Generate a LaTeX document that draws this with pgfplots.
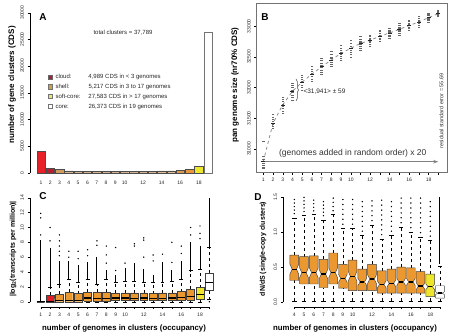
\documentclass[border=0pt]{standalone}
\usepackage{fontspec}
\setmainfont{Liberation Sans}
\usepackage{pgfplots}
\pgfplotsset{compat=1.18}
\usetikzlibrary{decorations.pathreplacing,arrows.meta}

\definecolor{redA}{RGB}{232,32,40}
\definecolor{darkredA}{RGB}{180,32,45}
\definecolor{tanA}{RGB}{208,155,95}
\definecolor{brownA}{RGB}{190,140,90}
\definecolor{lorangeA}{RGB}{218,155,80}
\definecolor{orangeA}{RGB}{232,150,55}
\definecolor{yellowA}{RGB}{238,230,45}
\definecolor{orangeC}{RGB}{236,152,48}
\definecolor{redC}{RGB}{226,30,36}
\definecolor{legred}{RGB}{165,35,55}
\definecolor{legtan}{RGB}{200,160,80}
\definecolor{legyel}{RGB}{230,230,120}

\pgfplotsset{rstyle/.style={scale only axis, axis lines*=left, axis line style={draw=none},
  tick align=outside, major tick length=2.5pt, tick style={black, line width=0.35pt},
  ticklabel style={font=\fontsize{5}{6}\selectfont, text=black!85},
  /pgf/number format/assume math mode=true, /pgf/number format/1000 sep={},
  scaled ticks=false, clip=false,
  yticklabel style={rotate=90, anchor=south}}}

\newcommand\sq[2]{{\setlength\fboxsep{0pt}\setlength\fboxrule{0.6pt}\fcolorbox{#2}{#1}{\rule{0pt}{3.6pt}\rule{3.6pt}{0pt}}}}

% #1 x, #2 lower whisker, #3 q1, #4 median, #5 q3, #6 upper whisker, #7 notch, #8 fill, #9 draw
\newcommand\rbox[9]{%
  \pgfmathsetmacro\xl{#1-\bw}%
  \pgfmathsetmacro\xr{#1+\bw}%
  \pgfmathsetmacro\xnl{#1-\bw*\nf}%
  \pgfmathsetmacro\xnr{#1+\bw*\nf}%
  \pgfmathsetmacro\cl{#1-\bw*0.5}%
  \pgfmathsetmacro\cr{#1+\bw*0.5}%
  \pgfmathsetmacro\nlo{#4-#7}%
  \pgfmathsetmacro\nhi{#4+#7}%
  \edef\tmp{%
    \noexpand\addplot[black, dashed, line width=0.35pt, forget plot] coordinates {(#1,#5) (#1,#6)};
    \noexpand\addplot[black, dashed, line width=0.35pt, forget plot] coordinates {(#1,#2) (#1,#3)};
    \noexpand\addplot[black, line width=0.35pt, forget plot] coordinates {(\cl,#6) (\cr,#6)};
    \noexpand\addplot[black, line width=0.35pt, forget plot] coordinates {(\cl,#2) (\cr,#2)};
    \noexpand\addplot[draw=#9, fill=#8, line width=0.45pt, forget plot] coordinates {(\xl,#3) (\xl,\nlo) (\xnl,#4) (\xl,\nhi) (\xl,#5) (\xr,#5) (\xr,\nhi) (\xnr,#4) (\xr,\nlo) (\xr,#3) (\xl,#3)};
    \noexpand\addplot[black, line width=1.3pt, forget plot] coordinates {(\xnl,#4) (\xnr,#4)};
  }\tmp}

\begin{document}
\begin{tikzpicture}
\useasboundingbox (0,0) rectangle (450pt,335pt);

%================ A =================
\begin{axis}[rstyle, at={(30pt,162.3pt)}, anchor=south west, width=185.5pt, height=160pt,
  xmin=-0.185, xmax=19.8, ymin=0, ymax=30000,
  ytick={0,5000,10000,15000,20000,25000,30000},
  xtick={1,2,3,4,5,6,7,8,9,10,12,14,16,18}, xtick style={draw=none},
  xticklabel style={yshift=-2pt}]
\draw[line width=0.35pt] (axis cs:-0.185,0) -- (axis cs:-0.185,30000);
\pgfplotsset{every axis plot/.append style={ybar, bar width=8.4pt, bar shift=0pt, draw=black!70, line width=0.35pt}}
\addplot[fill=redA] coordinates {(1,4100)};
\addplot[fill=darkredA] coordinates {(2,889)};
\addplot[fill=tanA] coordinates {(3,600)};
\addplot[fill=brownA] coordinates {(4,330) (5,290) (6,270) (7,260) (8,250) (9,250) (10,250) (11,250) (12,260) (13,270)};
\addplot[fill=tanA] coordinates {(14,330) (15,350)};
\addplot[fill=lorangeA] coordinates {(16,520)};
\addplot[fill=orangeA] coordinates {(17,740)};
\addplot[fill=yellowA] coordinates {(18,1210)};
\addplot[fill=white, draw=black!55] coordinates {(19,26373)};
\end{axis}
\node[font=\bfseries\fontsize{10}{12}\selectfont] at (43pt,318pt) {A};
\node[font=\fontsize{6}{7}\selectfont, text=black!85] at (123pt,302pt) {total clusters = 37,789};
\node[anchor=north west, inner sep=0pt, font=\fontsize{6}{9.7}\selectfont, text=black!85] at (48pt,263pt)
 {\begin{tabular}{@{}c@{\hspace{2.5pt}}p{33pt}@{}l@{}}
  \sq{legred}{black!60} & cloud: & 4,989 CDS in < 3 genomes\\
  \sq{legtan}{black!55} & shell: & 5,217 CDS in 3 to 17 genomes\\
  \sq{legyel}{black!55} & soft-core: & 27,583 CDS in > 17 genomes\\
  \sq{white}{black!55} & core: & 26,373 CDS in 19 genomes
 \end{tabular}};
\node[rotate=90, font=\bfseries\fontsize{8}{9}\selectfont] at (12pt,250pt) {number of gene clusters (CDS)};

%================ B =================
\begin{axis}[scale only axis, at={(256.7pt,162.7pt)}, anchor=south west, width=190.3pt, height=169pt,
  xmin=0.32, xmax=19.9, ymin=30621, ymax=33373, axis line style={draw=black!55, line width=0.5pt},
  xtick pos=bottom, ytick pos=left, tick align=outside, major tick length=2.5pt,
  tick style={black, line width=0.35pt},
  ticklabel style={font=\fontsize{5}{6}\selectfont, text=black!85},
  /pgf/number format/assume math mode=true, /pgf/number format/1000 sep={}, scaled ticks=false,
  yticklabel style={rotate=90, anchor=south},
  xtick={1,2,3,4,5,6,7,8,9,10,11,12,13,14,15,16,17,18,19},
  xticklabels={1,2,3,4,5,6,7,8,9,10,,12,,14,,16,,18,},
  ytick={31000,31500,32000,32500,33000}, clip=false]
\addplot[only marks, mark=-, mark size=1.2pt, black!60, mark options={line width=0.6pt}] table {
x y
1 30680
1 30710
1 30740
1 30770
1 30800
1 30840
1 30880
1 31120
2 31340
2 31370
2 31400
2 31420
2 31450
2 31480
2 31520
2 31560
3 31580
3 31620
3 31660
3 31700
3 31730
3 31770
3 31810
3 31850
4 31800
4 31840
4 31880
4 31920
4 31960
4 32000
4 32040
4 32070
5 31960
5 32000
5 32040
5 32080
5 32110
5 32140
5 32170
5 32205
6 32100
6 32140
6 32180
6 32210
6 32240
6 32270
6 32300
6 32340
7 32210
7 32250
7 32290
7 32330
7 32360
7 32400
7 32440
7 32475
8 32340
8 32380
8 32410
8 32440
8 32470
8 32500
8 32540
8 32585
9 32450
9 32480
9 32510
9 32540
9 32570
9 32600
9 32640
9 32690
10 32500
10 32540
10 32580
10 32610
10 32640
10 32680
10 32720
10 32775
11 32610
11 32640
11 32670
11 32700
11 32730
11 32760
11 32790
11 32830
12 32670
12 32700
12 32730
12 32760
12 32780
12 32800
12 32830
12 32860
13 32750
13 32780
13 32800
13 32830
13 32850
13 32880
13 32910
13 32940
14 32800
14 32830
14 32850
14 32880
14 32900
14 32920
14 32940
14 32965
15 32860
15 32890
15 32910
15 32940
15 32960
15 32990
15 33020
15 33045
16 32940
16 32960
16 32990
16 33010
16 33030
16 33050
16 33075
16 33100
17 32990
17 33020
17 33040
17 33060
17 33080
17 33100
17 33130
17 33155
18 33070
18 33090
18 33110
18 33130
18 33150
18 33170
18 33190
18 33210
19 33155
19 33170
19 33185
19 33200
19 33215
19 33230
19 33245
19 33260
};
\addplot[dashed, black!45, line width=0.8pt] coordinates {(1,30800) (2,31420) (3,31720) (4,31941) (5,32090) (6,32220) (7,32340) (8,32450) (9,32560) (10,32640) (11,32720) (12,32770) (13,32840) (14,32890) (15,32950) (16,33010) (17,33070) (18,33140) (19,33205)};
\addplot[only marks, mark=-, mark size=2pt, black!85, mark options={line width=0.6pt}] coordinates {(1,30800) (2,31420) (3,31720) (4,31941) (5,32090) (6,32220) (7,32340) (8,32450) (9,32560) (10,32640) (11,32720) (12,32770) (13,32840) (14,32890) (15,32950) (16,33010) (17,33070) (18,33140) (19,33205)};
\draw[-{Stealth[length=5pt,width=3.5pt]}, black!50, line width=1.1pt] (axis cs:1,30794) -- (axis cs:19,30794);
\node[font=\fontsize{8.5}{10}\selectfont, text=black!80] at (axis cs:10.2,30935) {(genomes added in random order) x 20};
\end{axis}
\node[font=\bfseries\fontsize{10}{12}\selectfont] at (265pt,318pt) {B};
\draw[decorate, decoration={brace, amplitude=2.5pt}, black!70, line width=0.5pt] (296pt,256pt) -- (296pt,234pt);
\node[anchor=west, font=\fontsize{6.5}{8}\selectfont, text=black!85] at (300pt,243pt) {<31,941> ± 59};
\node[rotate=90, font=\fontsize{5.5}{6}\selectfont, text=black!80] at (441.5pt,224pt) {residual standard error = 55.69};
\node[rotate=90, font=\bfseries\fontsize{8}{9}\selectfont] at (235pt,250pt) {pan genome size (nr70\% CDS)};

%================ C =================
\def\bw{0.42}\def\nf{1}
\begin{axis}[rstyle, at={(30pt,28.3pt)}, anchor=south west, width=185pt, height=108.9pt,
  xmin=-0.14, xmax=19.6, ymin=-0.67, ymax=14,
  ytick={0,2,4,6,8,10,12,14},
  xtick={1,2,3,4,5,6,7,8,9,10,11,12,13,14,15,16,17,18,19},
  xticklabels={1,2,3,4,5,6,7,8,9,10,,12,,14,,16,,18,}]
\draw[line width=0.35pt] (axis cs:-0.14,0) -- (axis cs:-0.14,14);
\draw[line width=0.35pt] (axis cs:1,-0.67) -- (axis cs:19,-0.67);
% dense outlier columns
\addplot[black, line width=1pt] coordinates {(1,0) (1,8.3)};
\addplot[black, line width=1pt] coordinates {(2,2.0) (2,7.3)};
\addplot[black, line width=1pt] coordinates {(3,2.4) (3,5.5)};
\addplot[black, line width=1pt] coordinates {(4,3.0) (4,5.5)};
\addplot[black, line width=1pt] coordinates {(5,2.6) (5,5.0)};
\addplot[black, line width=1pt] coordinates {(6,3.0) (6,5.3)};
\addplot[black, line width=1pt] coordinates {(7,2.4) (7,6.0)};
\addplot[black, line width=1pt] coordinates {(8,3.0) (8,4.3)};
\addplot[black, line width=1pt] coordinates {(9,2.7) (9,3.6)};
\addplot[black, line width=1pt] coordinates {(10,2.8) (10,4.5)};
\addplot[black, line width=1pt] coordinates {(11,2.8) (11,5.2)};
\addplot[black, line width=1pt] coordinates {(12,2.6) (12,4.4)};
\addplot[black, line width=1pt] coordinates {(13,2.6) (13,3.6)};
\addplot[black, line width=1pt] coordinates {(14,2.6) (14,5.3)};
\addplot[black, line width=1pt] coordinates {(15,2.8) (15,4.3)};
\addplot[black, line width=1pt] coordinates {(16,3.0) (16,5.5)};
\addplot[black, line width=1pt] coordinates {(17,4.2) (17,8.0)};
\addplot[black, line width=1pt] coordinates {(18,4.4) (18,7.5)};
\addplot[black, line width=1pt] coordinates {(19,7.3) (19,14)};
% sparse outliers
\addplot[only marks, mark=*, mark size=0.45pt, black] coordinates {
(1,9.0) (1,11.3) (1,11.9) (2,8.2) (2,10.0)
(3,6.2) (3,6.8) (3,7.5) (3,8.2) (3,9.0)
(4,6.0) (4,6.8) (5,5.8) (5,6.8) (6,6.2) (6,7.0)
(7,7.6) (7,8.2) (8,5.2) (8,6.3) (8,7.5) (9,4.2) (9,7.3)
(10,5.2) (11,7.5) (11,7.8) (12,6.0) (12,8.3) (12,8.6)
(13,5.5) (13,6.3) (14,6.4) (15,5.3) (15,8.0) (16,6.5) (16,7.5)
(17,9.0) (17,10.0) (18,8.5) (18,9.2) (18,10.2) (19,0)};
\rbox{1}{0}{0}{0}{0}{0}{0}{redC}{black!75}
\rbox{2}{0}{0}{0.05}{0.85}{2.0}{0}{redC}{black!75}
\rbox{3}{0}{0}{0.15}{1.0}{2.4}{0}{orangeC}{black!75}
\rbox{4}{0}{0}{0.2}{1.25}{3.0}{0}{orangeC}{black!75}
\rbox{5}{0}{0}{0.15}{1.1}{2.6}{0}{orangeC}{black!75}
\rbox{6}{0}{0.05}{0.5}{1.3}{3.0}{0}{orangeC}{black!75}
\rbox{7}{0}{0.1}{0.45}{1.25}{2.4}{0}{orangeC}{black!75}
\rbox{8}{0}{0.1}{0.45}{1.3}{3.0}{0}{orangeC}{black!75}
\rbox{9}{0}{0.15}{0.5}{1.15}{2.7}{0}{orangeC}{black!75}
\rbox{10}{0}{0.15}{0.5}{1.2}{2.8}{0}{orangeC}{black!75}
\rbox{11}{0}{0.15}{0.45}{1.2}{2.8}{0}{orangeC}{black!75}
\rbox{12}{0}{0.15}{0.5}{1.2}{2.6}{0}{orangeC}{black!75}
\rbox{13}{0}{0.15}{0.45}{1.1}{2.6}{0}{orangeC}{black!75}
\rbox{14}{0}{0.15}{0.45}{1.2}{2.6}{0}{orangeC}{black!75}
\rbox{15}{0}{0.15}{0.5}{1.2}{2.8}{0}{orangeC}{black!75}
\rbox{16}{0}{0.2}{0.6}{1.35}{3.0}{0}{orangeC}{black!75}
\rbox{17}{0}{0.2}{0.7}{1.7}{4.2}{0}{orangeC}{black!75}
\rbox{18}{0}{0.3}{1.0}{1.9}{4.4}{0}{yellowA}{black!75}
\rbox{19}{0.3}{1.6}{2.6}{3.9}{7.3}{0}{white}{black!75}
\end{axis}
\node[font=\bfseries\fontsize{10}{12}\selectfont] at (43pt,139pt) {C};
\node[rotate=90, font=\bfseries\fontsize{7}{8}\selectfont] at (13pt,86pt) {|log\textsubscript{2}(transcripts per million)|};
\node[font=\bfseries\fontsize{7.8}{9}\selectfont] at (124pt,7pt) {number of genomes in clusters (occupancy)};

%================ D =================
\def\bw{0.45}\def\nf{0.5}
\begin{axis}[rstyle, at={(283.3pt,28.3pt)}, anchor=south west, width=161.55pt, height=110pt,
  xmin=2.866, xmax=19.5, ymin=-0.0625, ymax=1.5,
  ytick={0,0.5,1,1.5}, yticklabels={0.0,0.5,1.0,1.5},
  xtick={4,5,6,7,8,9,10,11,12,13,14,15,16,17,18,19},
  xticklabels={4,5,6,7,8,9,10,,12,,14,,16,,18,}]
\draw[line width=0.35pt] (axis cs:2.866,0) -- (axis cs:2.866,1.5);
\draw[line width=0.35pt] (axis cs:4,-0.0625) -- (axis cs:19,-0.0625);
\addplot[black, line width=1pt] coordinates {(19,0.55) (19,1.5)};
\addplot[only marks, mark=*, mark size=0.45pt, black] coordinates {
(4,1.26) (4,1.31) (4,1.36) (4,1.41) (4,1.46)
(5,1.29) (5,1.34) (5,1.39) (5,1.44) (5,1.49)
(6,1.30) (6,1.35) (6,1.40) (6,1.45)
(7,1.23) (7,1.28) (7,1.33) (7,1.38) (7,1.43)
(8,1.30) (8,1.36) (8,1.42) (8,1.48)
(9,1.11) (9,1.18) (9,1.25) (9,1.32) (9,1.39) (9,1.46)
(10,1.11) (10,1.18) (10,1.25) (10,1.32) (10,1.39) (10,1.46)
(11,1.01) (11,1.08) (11,1.15) (11,1.22) (11,1.29) (11,1.36) (11,1.43)
(12,1.16) (12,1.23) (12,1.30) (12,1.37) (12,1.44)
(13,0.96) (13,1.03) (13,1.10) (13,1.17) (13,1.24) (13,1.31) (13,1.38) (13,1.45)
(14,1.01) (14,1.08) (14,1.15) (14,1.22) (14,1.29) (14,1.36) (14,1.43)
(15,1.13) (15,1.20) (15,1.27) (15,1.34) (15,1.41) (15,1.48)
(16,1.06) (16,1.13) (16,1.20) (16,1.27) (16,1.34) (16,1.41) (16,1.48)
(17,0.99) (17,1.06) (17,1.13) (17,1.20) (17,1.27) (17,1.34) (17,1.41) (17,1.48)
(18,0.94) (18,1.01) (18,1.08) (18,1.15) (18,1.22) (18,1.29) (18,1.36) (18,1.43)};
\rbox{4}{0.02}{0.31}{0.47}{0.67}{1.20}{0.07}{orangeC}{black!75}
\rbox{5}{0.02}{0.26}{0.42}{0.65}{1.24}{0.07}{orangeC}{black!75}
\rbox{6}{0.02}{0.26}{0.42}{0.66}{1.25}{0.07}{orangeC}{black!75}
\rbox{7}{0.02}{0.21}{0.40}{0.61}{1.17}{0.07}{orangeC}{black!75}
\rbox{8}{0.02}{0.26}{0.42}{0.70}{1.25}{0.07}{orangeC}{black!75}
\rbox{9}{0.02}{0.20}{0.34}{0.54}{1.05}{0.06}{orangeC}{black!75}
\rbox{10}{0.02}{0.165}{0.37}{0.60}{1.05}{0.07}{orangeC}{black!75}
\rbox{11}{0.02}{0.165}{0.29}{0.47}{0.95}{0.05}{orangeC}{black!75}
\rbox{12}{0.02}{0.165}{0.33}{0.54}{1.10}{0.06}{orangeC}{black!75}
\rbox{13}{0.02}{0.13}{0.255}{0.445}{0.90}{0.05}{orangeC}{black!75}
\rbox{14}{0.02}{0.13}{0.27}{0.47}{0.95}{0.05}{orangeC}{black!75}
\rbox{15}{0.02}{0.13}{0.29}{0.50}{1.07}{0.05}{orangeC}{black!75}
\rbox{16}{0.02}{0.13}{0.29}{0.49}{1.00}{0.05}{orangeC}{black!75}
\rbox{17}{0.02}{0.13}{0.23}{0.435}{0.93}{0.05}{orangeC}{black!75}
\rbox{18}{0.02}{0.08}{0.22}{0.40}{0.88}{0.04}{yellowA}{black!75}
\rbox{19}{0.01}{0.06}{0.13}{0.235}{0.52}{0.02}{white}{black!75}
\end{axis}
\node[font=\bfseries\fontsize{10}{12}\selectfont] at (258pt,138pt) {D};
\node[rotate=90, font=\bfseries\fontsize{7}{8}\selectfont] at (263pt,86pt) {dN/dS (single-copy clusters)};
\node[font=\bfseries\fontsize{7.8}{9}\selectfont] at (355pt,7pt) {number of genomes in clusters (occupancy)};
\end{tikzpicture}
\end{document}
